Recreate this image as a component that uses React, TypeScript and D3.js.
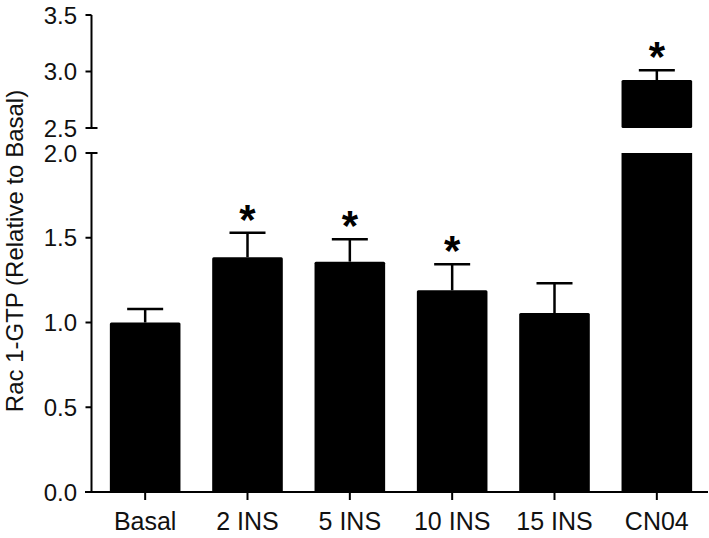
import React from "react";
import * as d3 from "d3";

const categories = ["Basal", "2 INS", "5 INS", "10 INS", "15 INS", "CN04"];
const means = [1.0, 1.385, 1.359, 1.19, 1.056, 2.925];
const sems = [0.08, 0.145, 0.132, 0.153, 0.175, 0.085];
const significant = [false, true, true, true, false, true];
const lowerTicks = [0.0, 0.5, 1.0, 1.5, 2.0];
const upperTicks = [2.5, 3.0, 3.5];
const yLabel = "Rac 1-GTP (Relative to Basal)";

const W = 709;
const H = 538;
const FONT = "'Liberation Sans', Arial, Helvetica, sans-serif";

export default function App() {
  const axisX = 91.5;
  const x = d3
    .scaleBand<string>()
    .domain(categories)
    .range([94, 708])
    .paddingInner(0.31)
    .paddingOuter(0.155);
  const yLow = d3.scaleLinear().domain([0, 2]).range([492, 153]);
  const yHigh = d3.scaleLinear().domain([2.5, 3.5]).range([128, 15]);
  const bw = x.bandwidth();
  const capW = 36;

  const yOf = (v: number) => (v <= 2 ? yLow(v) : yHigh(v));

  return (
    <svg
      width={W}
      height={H}
      style={{ position: "absolute", left: 0, top: 0, background: "#fff" }}
      fontFamily={FONT}
    >
      <rect x={0} y={0} width={W} height={H} fill="#fff" />
      {categories.map((c, i) => {
        const x0 = x(c)!;
        const v = means[i];
        const cx = x0 + bw / 2;
        const top = v + sems[i];
        const elems: React.ReactNode[] = [];
        if (v <= 2) {
          elems.push(
            <rect key="b" x={x0} y={yLow(v)} width={bw} height={yLow(0) - yLow(v)} rx={1.5} fill="#000" />
          );
        } else {
          elems.push(
            <rect key="b1" x={x0} y={yLow(2)} width={bw} height={yLow(0) - yLow(2)} fill="#000" />
          );
          elems.push(
            <rect key="b2" x={x0} y={yHigh(v)} width={bw} height={yHigh(2.5) - yHigh(v)} rx={1.5} fill="#000" />
          );
        }
        elems.push(
          <line key="ev" x1={cx} x2={cx} y1={yOf(v)} y2={yOf(top)} stroke="#000" strokeWidth={2.5} />
        );
        elems.push(
          <line key="ec" x1={cx - capW / 2} x2={cx + capW / 2} y1={yOf(top)} y2={yOf(top)} stroke="#000" strokeWidth={2.5} />
        );
        if (significant[i]) {
          elems.push(
            <text
              key="s"
              x={cx}
              y={yOf(top) + 1}
              textAnchor="middle"
              fontSize={42}
              fontWeight="bold"
              fill="#000"
            >
              *
            </text>
          );
        }
        return <g key={c}>{elems}</g>;
      })}

      <line x1={axisX} x2={axisX} y1={yLow(2)} y2={yLow(0)} stroke="#000" strokeWidth={2} />
      {lowerTicks.map((t) => (
        <g key={"l" + t}>
          <line
            x1={axisX - 6}
            x2={t === 2 ? axisX + 6 : axisX}
            y1={yLow(t)}
            y2={yLow(t)}
            stroke="#000"
            strokeWidth={2}
          />
          <text x={77} y={yLow(t)} dy="0.36em" textAnchor="end" fontSize={24} fill="#111">
            {t.toFixed(1)}
          </text>
        </g>
      ))}
      <line x1={axisX} x2={axisX} y1={yHigh(3.5)} y2={yHigh(2.5)} stroke="#000" strokeWidth={2} />
      {upperTicks.map((t) => (
        <g key={"u" + t}>
          <line
            x1={axisX - 6}
            x2={t === 2.5 ? axisX + 6 : axisX}
            y1={yHigh(t)}
            y2={yHigh(t)}
            stroke="#000"
            strokeWidth={2}
          />
          <text x={77} y={yHigh(t)} dy="0.36em" textAnchor="end" fontSize={24} fill="#111">
            {t.toFixed(1)}
          </text>
        </g>
      ))}

      <line x1={85} x2={708} y1={yLow(0)} y2={yLow(0)} stroke="#000" strokeWidth={2} />
      {categories.map((c) => {
        const cx = x(c)! + bw / 2;
        return (
          <g key={"x" + c}>
            <line x1={cx} x2={cx} y1={yLow(0)} y2={yLow(0) + 8} stroke="#000" strokeWidth={2} />
            <text x={cx} y={530} textAnchor="middle" fontSize={25} fill="#111">
              {c}
            </text>
          </g>
        );
      })}

      <text
        transform={`translate(23, 251) rotate(-90)`}
        textAnchor="middle"
        fontSize={24}
        fill="#111"
      >
        {yLabel}
      </text>
    </svg>
  );
}
